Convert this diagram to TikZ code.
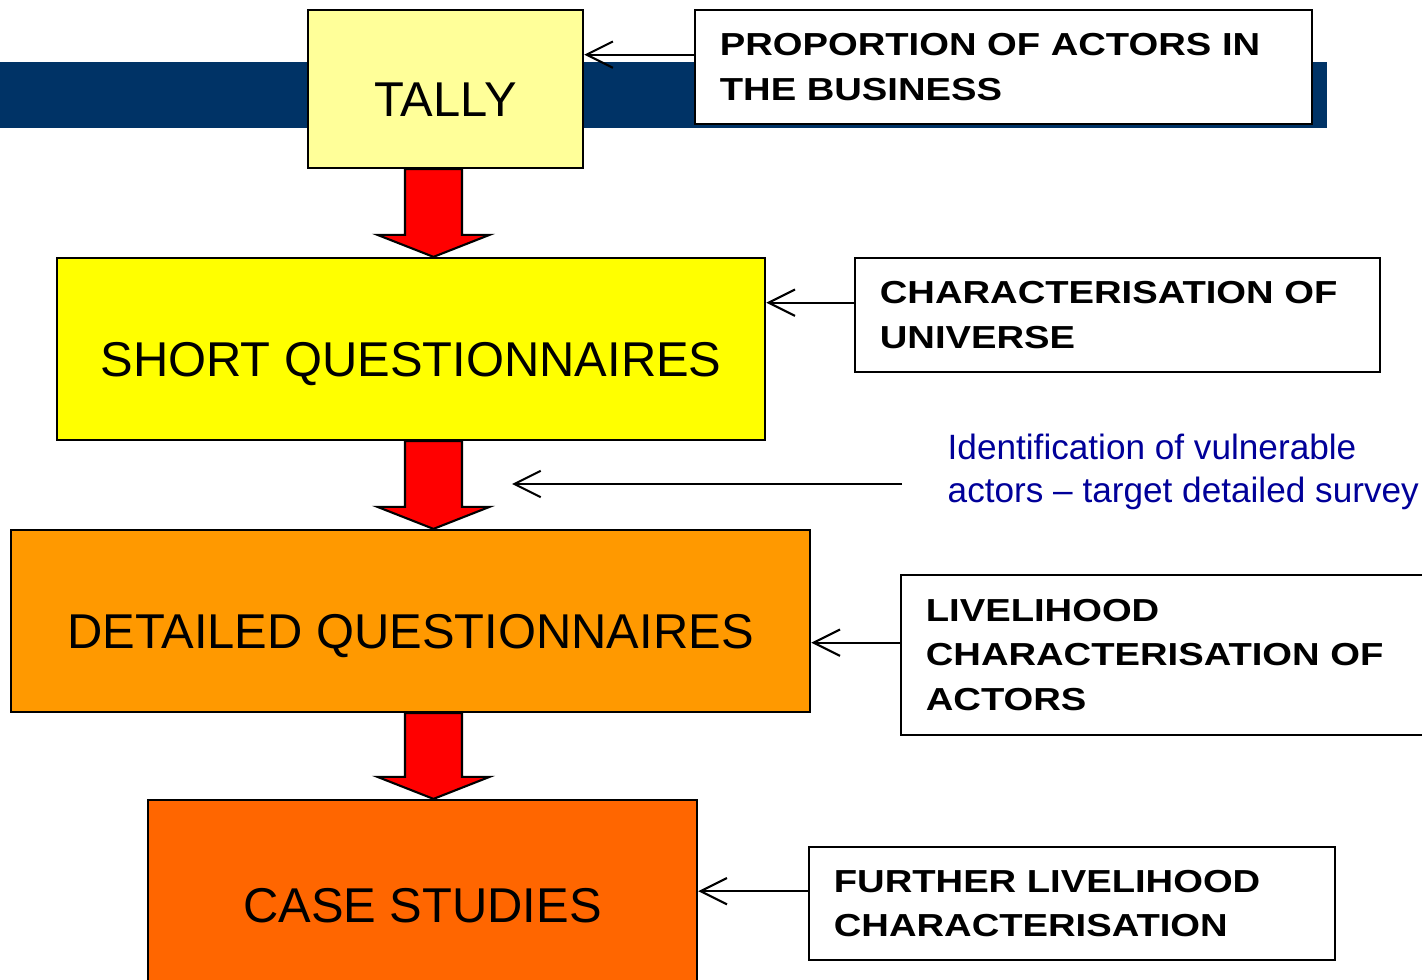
\documentclass[tikz,border=0pt]{standalone}
\usepackage{fontspec}
\setmainfont{Liberation Sans}
\newfontfamily\notefont{Liberation Sans}[FakeStretch=1.2]
\usetikzlibrary{arrows.meta, calc}

\definecolor{band}{HTML}{003366}
\definecolor{tallyfill}{HTML}{FFFF99}
\definecolor{shortfill}{HTML}{FFFF00}
\definecolor{detailfill}{HTML}{FF9900}
\definecolor{casefill}{HTML}{FF6600}
\definecolor{navytext}{HTML}{000099}

\tikzset{
  stage/.style={draw, line width=0.6pt, inner sep=0pt, font=\fontsize{13.9pt}{16pt}\selectfont, text height=0.55cm, text depth=0cm},
  note/.style={draw, line width=0.6pt, fill=white, inner xsep=0.25cm, align=left, font=\notefont\bfseries\fontsize{9.05pt}{12.6pt}\selectfont},
  feed/.style={line width=0.6pt, -{Straight Barb[length=7.5pt,width=7.5pt]}},
  flow/.style={draw, fill=red, line width=0.6pt, line join=miter}
}

\begin{document}
\begin{tikzpicture}[x=0.01cm, y=-0.01cm]
  \useasboundingbox (0,0) rectangle (1422,980);
  \clip (0,0) rectangle (1422,980);

  % band behind the top
  \fill[band] (0,62) rectangle (1327,128);

  % main steps
  \node[stage, fill=tallyfill, minimum width=2.75cm, minimum height=1.58cm] (tally) at (445.5,89) {TALLY};
  \node[stage, fill=shortfill, minimum width=7.08cm, minimum height=1.82cm] (short) at (411,349) {SHORT QUESTIONNAIRES};
  \node[stage, fill=detailfill, minimum width=7.99cm, minimum height=1.82cm] (detailed) at (410.5,621) {DETAILED QUESTIONNAIRES};
  \node[stage, fill=casefill, minimum width=5.49cm, minimum height=1.9cm] (case) at (422.5,895) {CASE STUDIES};

  % side notes
  \node[note, text width=5.67cm, minimum height=1.14cm] (prop) at (1003.5,67) {PROPORTION OF ACTORS IN\\THE BUSINESS};
  \node[note, text width=4.75cm, minimum height=1.14cm] (univ) at (1117.5,315) {CHARACTERISATION OF\\UNIVERSE};
  \node[note, text width=5.1cm, minimum height=1.6cm] (live) at (1181,655) {LIVELIHOOD\\CHARACTERISATION OF\\ACTORS};
  \node[note, text width=4.76cm, minimum height=1.13cm] (further) at (1072,903.5) {FURTHER LIVELIHOOD\\CHARACTERISATION};

  \node[anchor=west, inner sep=0pt, align=left, text=navytext, font=\fontsize{10pt}{12pt}\selectfont] (vuln) at (947,472) {Identification of vulnerable\\actors -- target detailed survey};

  \foreach \n/\s in {prop/tally, univ/short, live/detailed, further/case}{
    \path ([yshift=3.5pt]\n.west) coordinate (from);
    \draw[feed] (from) -- (from -| \s.east);
  }

  \coordinate (gap) at (512,484);
  \draw[feed] ($(vuln.west |- gap)+(-45,0)$) -- (gap);

  % big red arrows
  \coordinate (axis) at (433.5,0);
  \foreach \a/\b in {tally/short, short/detailed, detailed/case}
    \draw[flow] ($(axis |- \a.south)+(-28.5,0)$) -- ($(axis |- \b.north)+(-28.5,-22)$)
      -- ($(axis |- \b.north)+(-56,-22)$) -- (axis |- \b.north)
      -- ($(axis |- \b.north)+(56,-22)$) -- ($(axis |- \b.north)+(28.5,-22)$)
      -- ($(axis |- \a.south)+(28.5,0)$) -- cycle;
\end{tikzpicture}
\end{document}
